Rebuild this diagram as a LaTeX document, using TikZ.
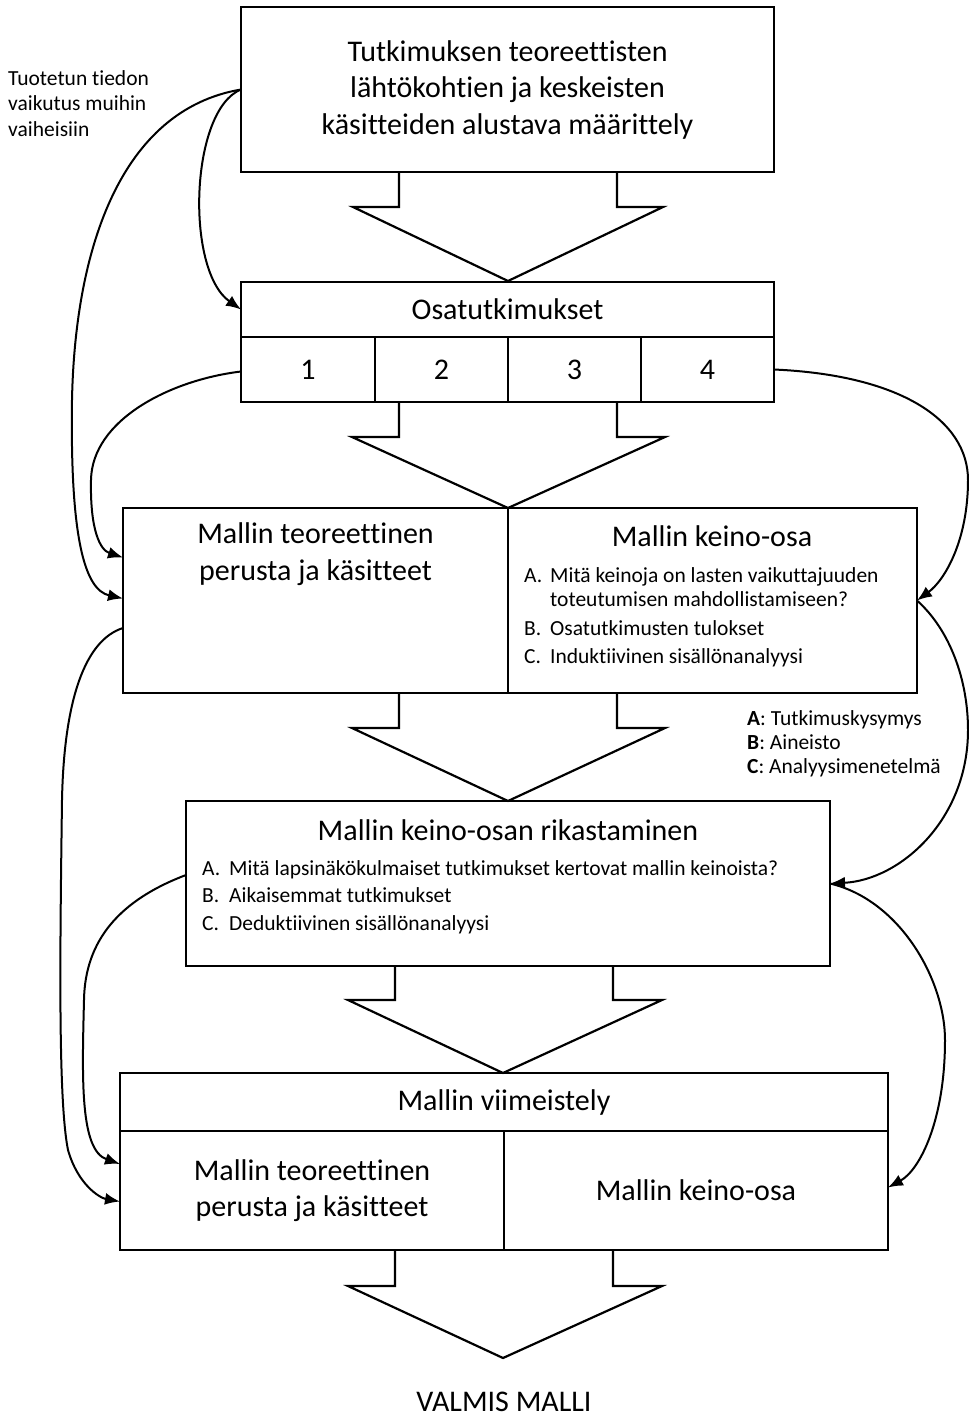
\documentclass[tikz,border=0pt]{standalone}
\usepackage{fontspec}
\setmainfont[Ligatures=NoCommon]{Carlito}
\usetikzlibrary{arrows.meta}
\newcommand{\mybig}{\fontsize{30}{36.5}\selectfont}
\newcommand{\mysmall}{\fontsize{21.5}{25.5}\selectfont}
\begin{document}
\begin{tikzpicture}[x=1pt,y=-1pt,
  box/.style={draw,line width=2.2pt,rectangle,inner sep=0pt,outer sep=0pt,align=center,font=\mybig},
  bigtext/.style={inner sep=0pt,align=center,font=\mybig},
  smalltext/.style={inner sep=0pt,anchor=west,font=\mysmall,text height=15pt,text depth=5pt},
  blockarrow/.style={draw,line width=2.2pt,line join=miter},
  link/.style={line width=2pt,-{Latex[length=15pt,width=12pt]}}]
\useasboundingbox (0,0) rectangle (969,1417);
% boxes
\node[box,minimum width=533pt,minimum height=165pt] (t1) at (507.5,89.5)
  {Tutkimuksen teoreettisten\\lähtökohtien ja keskeisten\\käsitteiden alustava määrittely};
\node[box,minimum width=533pt,minimum height=55pt] (osa) at (507.5,309.5) {Osatutkimukset};
\node[box,minimum width=134pt,minimum height=65pt] (c1) at (308,369.5) {1};
\node[box,minimum width=133pt,minimum height=65pt] (c2) at (441.5,369.5) {2};
\node[box,minimum width=133pt,minimum height=65pt] (c3) at (574.5,369.5) {3};
\node[box,minimum width=133pt,minimum height=65pt] (c4) at (707.5,369.5) {4};
\node[box,minimum width=385pt,minimum height=185pt] (b3L) at (315.5,600.5) {};
\node[box,minimum width=409pt,minimum height=185pt] (b3R) at (712.5,600.5) {};
\node[bigtext] (b3Lt) at (315.5,554) {Mallin teoreettinen\\perusta ja käsitteet};
\node[bigtext] (b3Rt) at (712,536) {Mallin keino-osa};
\node[smalltext] (la1) at (524,577) {A.};
\node[smalltext] (la1t) at (550,577) {Mitä keinoja on lasten vaikuttajuuden};
\node[smalltext] (la1u) at (550,601) {toteutumisen mahdollistamiseen?};
\node[smalltext] (lb1) at (524,630) {B.};
\node[smalltext] (lb1t) at (550,630) {Osatutkimusten tulokset};
\node[smalltext] (lc1) at (524,658) {C.};
\node[smalltext] (lc1t) at (550,658) {Induktiivinen sisällönanalyysi};
\node[smalltext] (lgA) at (747,720) {\textbf{A}: Tutkimuskysymys};
\node[smalltext] (lgB) at (747,744) {\textbf{B}: Aineisto};
\node[smalltext] (lgC) at (747,768) {\textbf{C}: Analyysimenetelmä};
\node[box,minimum width=644pt,minimum height=165pt] (b4) at (508,883.5) {};
\node[bigtext] (b4t) at (508,830) {Mallin keino-osan rikastaminen};
\node[smalltext] (la2) at (202,870) {A.};
\node[smalltext] (la2t) at (229,870) {Mitä lapsinäkökulmaiset tutkimukset kertovat mallin keinoista?};
\node[smalltext] (lb2) at (202,897) {B.};
\node[smalltext] (lb2t) at (229,897) {Aikaisemmat tutkimukset};
\node[smalltext] (lc2) at (202,925) {C.};
\node[smalltext] (lc2t) at (229,925) {Deduktiivinen sisällönanalyysi};
\node[box,minimum width=768pt,minimum height=58pt] (b5h) at (504,1102) {Mallin viimeistely};
\node[box,minimum width=384pt,minimum height=119pt] (b5L) at (312,1190.5) {Mallin teoreettinen\\perusta ja käsitteet};
\node[box,minimum width=384pt,minimum height=119pt] (b5R) at (696,1190.5) {Mallin keino-osa};
\node[bigtext] (valmis) at (504,1402) {VALMIS MALLI};
\node[inner sep=0pt,anchor=west,align=left,font=\mysmall] (note) at (8,103.5)
  {Tuotetun tiedon\\vaikutus muihin\\vaiheisiin};
% block arrows
\draw[blockarrow] (399,172) -- (399,207) -- (353,207) -- (508,281) -- (663,207) -- (617,207) -- (617,172);
\draw[blockarrow] (399,402) -- (399,437) -- (352,437) -- (508,508) -- (665,437) -- (617,437) -- (617,402);
\draw[blockarrow] (399,693) -- (399,728) -- (352,728) -- (508,801) -- (665,728) -- (617,728) -- (617,693);
\draw[blockarrow] (395,966) -- (395,1000) -- (348,1000) -- (503,1073) -- (662,1000) -- (613,1000) -- (613,966);
\draw[blockarrow] (395,1250) -- (395,1286) -- (348,1286) -- (503,1358) -- (662,1286) -- (613,1286) -- (613,1250);
% feedback connectors
\draw[link] (t1.west) .. controls (190,110) and (185,270) .. (osa.west);
\draw[link] (t1.west) .. controls (120,110) and (75,250) .. (72,400)
  .. controls (70,540) and (85,590) .. ([yshift=2pt]b3L.west);
\draw[link] ([yshift=-2pt]c1.west) .. controls (170,380) and (92,420) .. (91,480)
  .. controls (90,530) and (100,550) .. ([yshift=43pt]b3L.west);
\draw[link] (c4.east) .. controls (900,375) and (968,420) .. (968,480)
  .. controls (968,540) and (945,580) .. (b3R.east);
\draw[link] (b3R.east) .. controls (950,630) and (968,680) .. (968,730)
  .. controls (968,820) and (900,880) .. (b4.east);
\draw[link] (b4.east) .. controls (900,900) and (945,980) .. (945,1040)
  .. controls (945,1120) and (920,1170) .. ([yshift=3pt]b5R.east);
\draw[link] ([yshift=-27.5pt]b3L.west) .. controls (85,640) and (64,700) .. (62,800)
  .. controls (60,950) and (58,1100) .. (68,1150)
  .. controls (78,1185) and (100,1198) .. ([yshift=-11pt]b5L.west);
\draw[link] ([yshift=8.5pt]b4.west) .. controls (120,900) and (85,940) .. (84,1000)
  .. controls (82,1080) and (80,1150) .. ([yshift=26.5pt]b5L.west);
\end{tikzpicture}
\end{document}
